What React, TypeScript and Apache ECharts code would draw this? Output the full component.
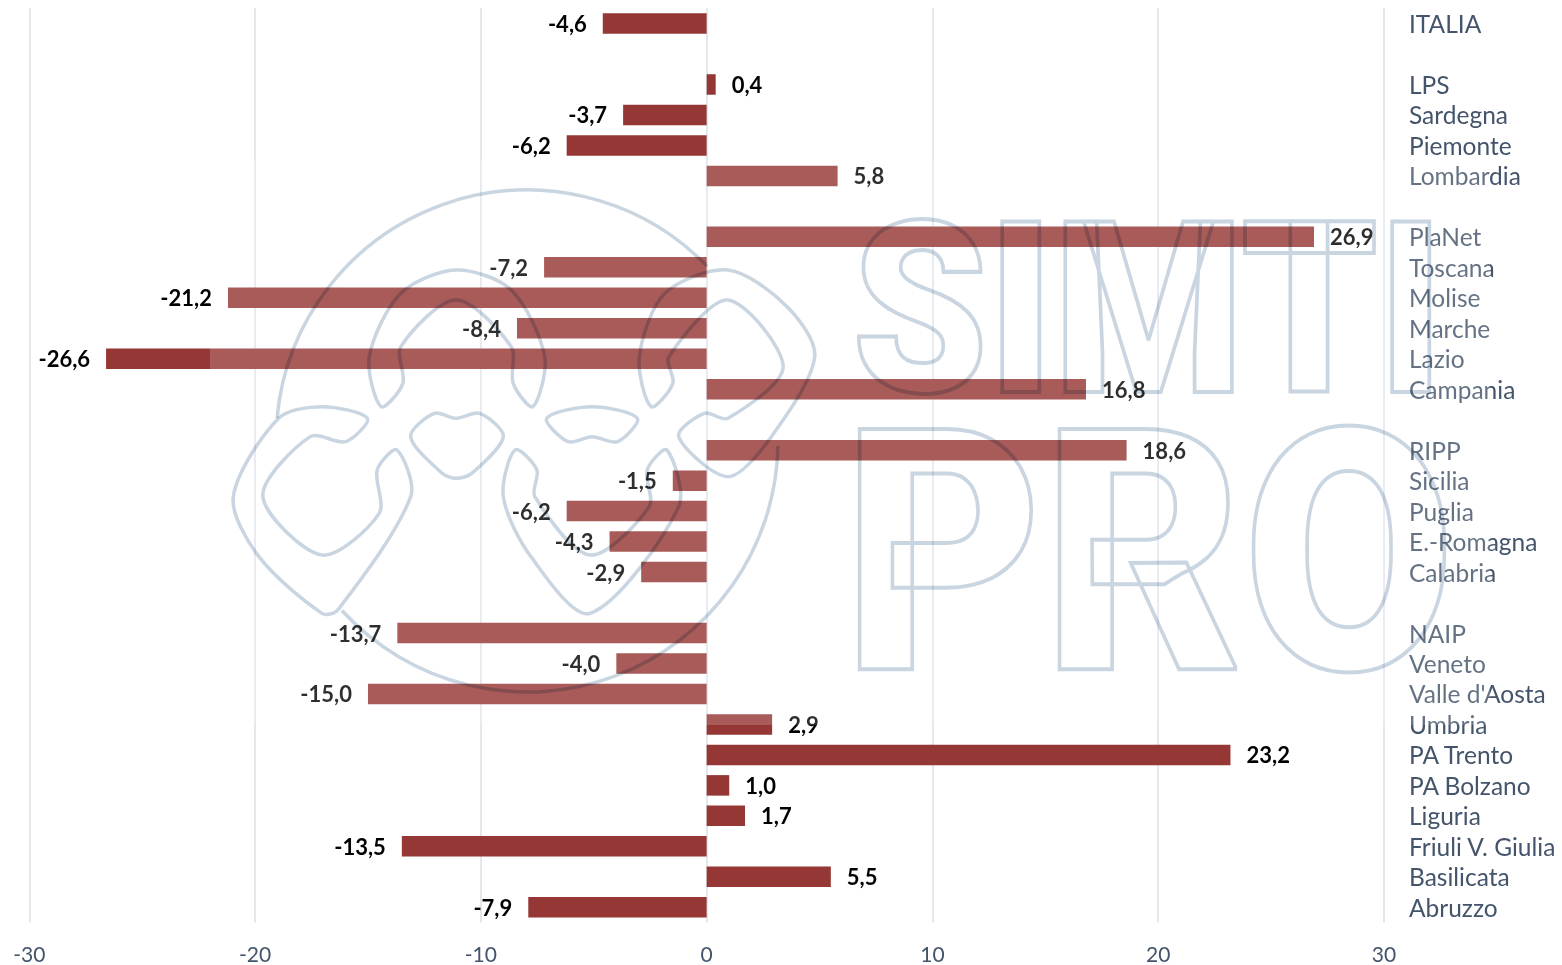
import React, { useEffect, useRef } from "react";
import * as echarts from "echarts";

const categories = ["ITALIA", "", "LPS", "Sardegna", "Piemonte", "Lombardia", " ", "PlaNet", "Toscana", "Molise", "Marche", "Lazio", "Campania", "  ", "RIPP", "Sicilia", "Puglia", "E.-Romagna", "Calabria", "   ", "NAIP", "Veneto", "Valle d'Aosta", "Umbria", "PA Trento", "PA Bolzano", "Liguria", "Friuli V. Giulia", "Basilicata", "Abruzzo"];
const values: (number | null)[] = [-4.6, null, 0.4, -3.7, -6.2, 5.8, null, 26.9, -7.2, -21.2, -8.4, -26.6, 16.8, null, 18.6, -1.5, -6.2, -4.3, -2.9, null, -13.7, -4.0, -15.0, 2.9, 23.2, 1.0, 1.7, -13.5, 5.5, -7.9];
const xTicks = { min: -30, max: 30, interval: 10 };

const FONT = "Lato, Carlito, sans-serif";
const WM = "#C9D5E0";

// watermark logo outlines, traced in zoom coordinates
const zx = (x: number) => 255 + (x - 90) / 2.537;
const zy = (y: number) => 180 + y / 3;
const lobes: number[][][] = [
  [[410,680],[380,530],[460,340],[600,270],[740,330],[825,530],[795,680],[745,610],[740,500],[600,360],[460,500],[465,610]],
  [[1095,680],[1065,530],[1130,340],[1290,270],[1440,380],[1510,530],[1400,770],[1290,890],[1165,770],[1230,700],[1290,715],[1430,560],[1290,360],[1140,530],[1150,610]],
  [[150,715],[35,950],[100,1130],[260,1300],[300,1290],[485,950],[450,810],[400,870],[405,1000],[260,1125],[110,950],[230,770],[320,785],[375,715],[260,680]],
  [[750,810],[720,950],[790,1130],[940,1300],[1165,980],[1135,810],[1085,870],[1090,980],[940,1125],[800,950],[805,870]],
  [[485,770],[545,700],[600,715],[660,700],[720,770],[640,880],[600,895],[565,880]],
  [[830,715],[945,680],[1060,715],[1010,785],[945,770],[885,785]],
];

export default function App() {
  const ref = useRef<HTMLDivElement>(null);
  useEffect(() => {
    document.body.style.margin = "0";
    const chart = echarts.init(ref.current!, undefined, { renderer: "svg" });
    const lineStyle = { fill: "none", stroke: WM, lineWidth: 3.5 };
    chart.setOption({
      animation: false,
      backgroundColor: "#fff",
      grid: { left: 29.3, right: 178, top: 8.3, bottom: 42.5 },
      xAxis: {
        type: "value",
        ...xTicks,
        axisLine: { show: false },
        axisTick: { show: false },
        axisLabel: { color: "#44546A", fontFamily: FONT, fontSize: 21, margin: 20 },
        splitLine: { show: true, lineStyle: { color: "#E3E8EF", width: 2 } },
      },
      yAxis: {
        type: "category",
        inverse: true,
        position: "right",
        data: categories,
        axisLine: { show: false },
        axisTick: { show: false },
        axisLabel: { interval: 0, color: "#44546A", fontFamily: FONT, fontSize: 24.5, margin: 25, align: "left", padding: [0, 0, 6, 0] },
        splitLine: { show: false },
      },
      series: [
        {
          type: "bar",
          barWidth: 20.5,
          itemStyle: { color: "#953735" },
          data: values.map((v) => ({
            value: v,
            label: { position: v !== null && v < 0 ? "left" : "right" },
          })),
          label: {
            show: true,
            distance: 16,
            color: "#000",
            fontFamily: FONT,
            fontWeight: "bold",
            fontSize: 22,
            formatter: (p: any) => (p.value == null ? "" : Number(p.value).toFixed(1).replace(".", ",")),
          },
        },
      ],
      graphic: [
        { type: "rect", z: 100, silent: true, shape: { x: 210, y: 160, width: 1280, height: 565 }, style: { fill: "rgba(255,255,255,0.18)" } },
        { type: "arc", z: 101, silent: true, shape: { cx: 527, cy: 441, r: 251, startAngle: -3.05, endAngle: -0.77, clockwise: true }, style: lineStyle },
        { type: "arc", z: 101, silent: true, shape: { cx: 527, cy: 441, r: 251, startAngle: 0.02, endAngle: 2.4, clockwise: true }, style: lineStyle },
        ...lobes.map((pts) => ({
          type: "polygon",
          z: 101,
          silent: true,
          shape: { points: pts.map(([x, y]) => [zx(x), zy(y)]), smooth: 0.3 },
          style: lineStyle,
        })),
        { type: "text", z: 101, silent: true, x: 852, y: 190, scaleX: 0.905, style: { text: "SIMTI", font: "900 240px Roboto", fill: "none", stroke: WM, lineWidth: 4, textVerticalAlign: "top" } },
        { type: "text", z: 101, silent: true, x: 843, y: 385, scaleX: 0.908, style: { text: "PRO", font: "900 338px Roboto", fill: "none", stroke: WM, lineWidth: 4, textVerticalAlign: "top" } },
      ],
    });
    ref.current!.querySelectorAll<SVGElement>('[stroke="#C9D5E0"], [stroke="#c9d5e0"]').forEach((el) => {
      el.style.mixBlendMode = "multiply";
    });
    return () => chart.dispose();
  }, []);
  return <div ref={ref} style={{ position: "fixed", left: 0, top: 0, width: 1562, height: 965 }} />;
}
